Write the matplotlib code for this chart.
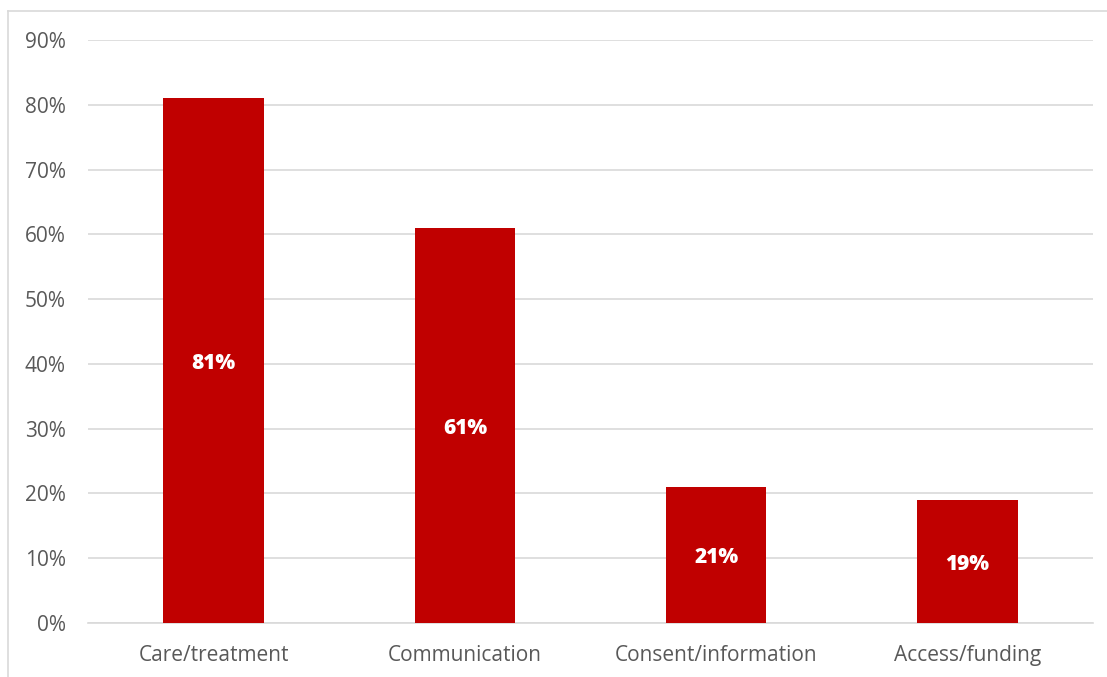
import numpy as np
import matplotlib.pyplot as plt
from matplotlib.lines import Line2D

categories = ['Care/treatment', 'Communication', 'Consent/information', 'Access/funding']
values = [0.81, 0.61, 0.21, 0.19]
yticks = [0, 0.1, 0.2, 0.3, 0.4, 0.5, 0.6, 0.7, 0.8, 0.9]

plt.rcParams['font.family'] = ['Open Sans', 'DejaVu Sans']

W, H = 1107, 677
fig = plt.figure(figsize=(W / 100, H / 100), dpi=100)
ax = fig.add_axes([88 / W, (H - 623) / H, (1093 - 88) / W, (623 - 40) / H])

x = np.arange(len(categories))
bars = ax.bar(x, values, width=0.4, color='#C00000', zorder=3)

for b, v in zip(bars, values):
	ax.annotate('{:.0f}%'.format(v * 100), (b.get_x() + b.get_width() / 2, v / 2),
		xytext=(0, -2), textcoords='offset points',
		ha='center', va='center', color='white', fontsize=15, fontweight='heavy')

ax.set_xlim(-0.5, len(categories) - 0.5)
ax.set_ylim(0, 0.9)
ax.set_yticks(yticks)
ax.set_yticklabels(['{:.0f}%'.format(t * 100) for t in yticks])
ax.set_xticks(x)
ax.set_xticklabels(categories)
ax.tick_params(axis='both', length=0, colors='#595959', labelsize=15)
ax.tick_params(axis='y', pad=16)
ax.tick_params(axis='x', pad=16)
ax.grid(axis='y', color='#d9d9d9', linewidth=1.2, zorder=0)
for s in ['top', 'right', 'left']:
	ax.spines[s].set_visible(False)
ax.spines['bottom'].set_color('#d9d9d9')
ax.spines['bottom'].set_linewidth(1.2)

# chart frame (left and top edges only visible)
fig.add_artist(Line2D([8 / W, 8 / W], [0, 1 - 11 / H], color='#d9d9d9', linewidth=1.2))
fig.add_artist(Line2D([8 / W, 1], [1 - 11 / H, 1 - 11 / H], color='#d9d9d9', linewidth=1.2))

fig.savefig('out.png', dpi=100)
